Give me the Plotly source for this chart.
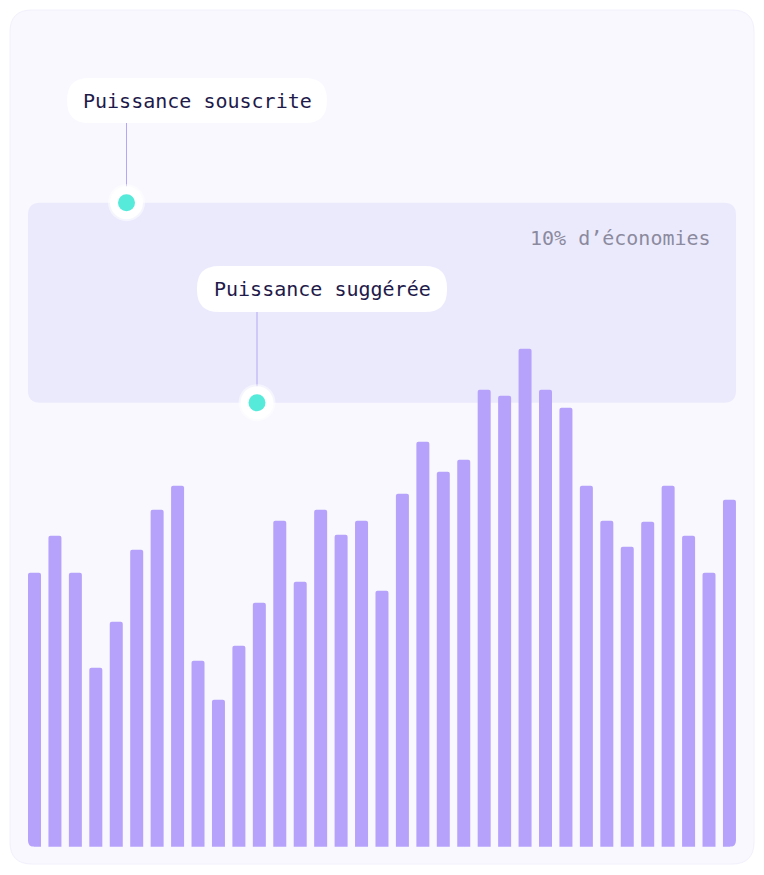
import plotly.graph_objects as go

# ---------------- data ----------------
consumption = [274, 311, 274, 179, 225, 297, 337, 361, 186, 147, 201, 244,
               326, 265, 337, 312, 326, 256, 353, 405, 375, 387, 457, 451,
               498, 457, 439, 361, 326, 300, 325, 361, 311, 274, 347]
periods = list(range(len(consumption)))
subscribed_power = 644      # "Puissance souscrite"
suggested_power = 444       # "Puissance suggérée"
label_subscribed = "Puissance souscrite"
label_suggested = "Puissance suggérée"
label_savings = "10% d’économies"

# ---------------- layout geometry ----------------
W, H = 764, 875
S = 20.44            # px per category
X0PX = 34.5          # px centre of first bar
BASE_PX = 846.7      # px of value 0
x_lo = -X0PX / S
x_hi = x_lo + W / S
y_lo = -(H - BASE_PX)
y_hi = y_lo + H


def X(px):
    return x_lo + px / S


def Y(py):
    return y_lo + (H - py)


def PX(x):
    return (x - x_lo) * S


def PY(v):
    return H - (v - y_lo)


def rrect(x0, y0, x1, y1, r):
    pts = [
        ("M", [(x0 + r, y0)]), ("L", [(x1 - r, y0)]), ("Q", [(x1, y0), (x1, y0 + r)]),
        ("L", [(x1, y1 - r)]), ("Q", [(x1, y1), (x1 - r, y1)]),
        ("L", [(x0 + r, y1)]), ("Q", [(x0, y1), (x0, y1 - r)]),
        ("L", [(x0, y0 + r)]), ("Q", [(x0, y0), (x0 + r, y0)]),
    ]
    s = ""
    for cmd, ps in pts:
        s += cmd + " " + " ".join(f"{X(a):.4f},{Y(b):.4f}" for a, b in ps) + " "
    return s + "Z"


CARD = "#F9F8FE"
BAND = "#EBEAFD"
BAR = "#B6A2FB"
TEAL = "#55EAD9"
LINE = "#B4A7F4"
NAVY = "#1E1A4A"
GREY = "#8C8A9E"

fig = go.Figure()
fig.add_trace(go.Bar(
    x=periods, y=consumption,
    marker=dict(color=BAR, line=dict(width=0), cornerradius=2),
    hoverinfo="skip",
))

shapes = []
# card
shapes.append(dict(type="path", path=rrect(10, 10, 754, 864, 22), xref="x", yref="y",
                   fillcolor=CARD, line=dict(color="#F2F0FC", width=1), layer="below"))
# band between suggested and subscribed power
band_left = PX(-0.318)
band_right = PX(len(consumption) - 1 + 0.318)
bt = PY(subscribed_power)
bb = PY(suggested_power)
shapes.append(dict(type="path", path=rrect(band_left, bt, band_right, bb, 12), xref="x", yref="y",
                   fillcolor=BAND, line=dict(width=0), layer="below"))

# markers / callouts
dot1 = (126.5, PY(subscribed_power))
dot2 = (257.0, PY(suggested_power))
pill1 = (67, 78, 327, 123)
pill2 = (197, 266, 447, 312)

for (cx, cy), pill in ((dot1, pill1), (dot2, pill2)):
    shapes.append(dict(type="line", x0=X(cx), x1=X(cx), y0=Y(pill[3]), y1=Y(cy - 10),
                       xref="x", yref="y", line=dict(color=LINE, width=1), layer="above"))
    shapes.append(dict(type="path", path=rrect(*pill, 22), xref="x", yref="y",
                       fillcolor="#FFFFFF", line=dict(width=0), layer="above"))
    for r, col in ((18.5, "rgba(255,255,255,0.5)"), (16.5, "#FFFFFF"), (8.5, TEAL)):
        shapes.append(dict(type="circle", x0=X(cx - r), x1=X(cx + r), y0=Y(cy + r), y1=Y(cy - r),
                           xref="x", yref="y", fillcolor=col, line=dict(width=0), layer="above"))

# rounded bottom corners of the bar block
r = 6
bl, br = PX(-0.318), PX(len(consumption) - 1 + 0.318)
shapes.append(dict(type="path", xref="x", yref="y", fillcolor=CARD, line=dict(width=0), layer="above",
                   path=f"M {X(bl-0.5)},{Y(BASE_PX-r)} L {X(bl-0.5)},{Y(BASE_PX+0.5)} L {X(bl+r)},{Y(BASE_PX+0.5)} "
                        f"L {X(bl+r)},{Y(BASE_PX)} Q {X(bl)},{Y(BASE_PX)} {X(bl)},{Y(BASE_PX-r)} Z"))
shapes.append(dict(type="path", xref="x", yref="y", fillcolor=CARD, line=dict(width=0), layer="above",
                   path=f"M {X(br+0.5)},{Y(BASE_PX-r)} L {X(br+0.5)},{Y(BASE_PX+0.5)} L {X(br-r)},{Y(BASE_PX+0.5)} "
                        f"L {X(br-r)},{Y(BASE_PX)} Q {X(br)},{Y(BASE_PX)} {X(br)},{Y(BASE_PX-r)} Z"))

font = dict(family="DejaVu Sans Mono", size=20, color=NAVY)
annotations = [
    dict(x=X((pill1[0] + pill1[2]) / 2), y=Y((pill1[1] + pill1[3]) / 2), text=label_subscribed,
         showarrow=False, xanchor="center", yanchor="middle", font=font),
    dict(x=X((pill2[0] + pill2[2]) / 2), y=Y((pill2[1] + pill2[3]) / 2), text=label_suggested,
         showarrow=False, xanchor="center", yanchor="middle", font=font),
    dict(x=X(713), y=Y(238), text=label_savings, showarrow=False, xanchor="right", yanchor="middle",
         font=dict(family="DejaVu Sans Mono", size=20, color=GREY)),
]

fig.update_layout(
    width=W, height=H, margin=dict(l=0, r=0, t=0, b=0),
    paper_bgcolor="#FFFFFF", plot_bgcolor="rgba(0,0,0,0)",
    showlegend=False, bargap=0.364, hovermode=False,
    xaxis=dict(range=[x_lo, x_hi], visible=False, fixedrange=True),
    yaxis=dict(range=[y_lo, y_hi], visible=False, fixedrange=True),
    shapes=shapes, annotations=annotations,
)

fig.write_html("out.html", config={"displayModeBar": False, "staticPlot": True})
